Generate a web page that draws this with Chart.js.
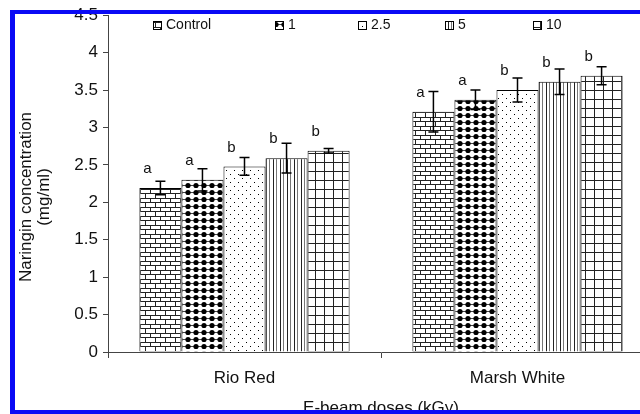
<!DOCTYPE html>
<html>
<head>
<meta charset="utf-8">
<script src="https://cdn.jsdelivr.net/npm/chart.js@4.4.1/dist/chart.umd.min.js"></script>
<style>
  html, body { margin: 0; padding: 0; background: #fff; overflow: hidden; }
  canvas { display: block; }
</style>
</head>
<body>
<canvas id="myChart" width="660" height="424"></canvas>
<script>
// Chart data
const categories = ['Rio Red', 'Marsh White'];
const doses = ['Control', '1', '2.5', '5', '10'];
const rioRed = [2.19, 2.30, 2.48, 2.59, 2.69];
const marshWhite = [3.21, 3.37, 3.50, 3.61, 3.69];
const rioRedErr = [0.09, 0.15, 0.12, 0.20, 0.03];
const marshWhiteErr = [0.27, 0.13, 0.16, 0.17, 0.12];
const rioRedLetters = ['a', 'a', 'b', 'b', 'b'];
const marshWhiteLetters = ['a', 'a', 'b', 'b', 'b'];
const yTicks = [0, 0.5, 1, 1.5, 2, 2.5, 3, 3.5, 4, 4.5];
const yTitle = ['Naringin concentration', '(mg/ml)'];

const FONT = '"Liberation Sans", Arial, sans-serif';

// build a small repeating fill for each dose
function makePattern(w, h, draw) {
    const c = document.createElement('canvas');
    c.width = w;
    c.height = h;
    const g = c.getContext('2d');
    g.fillStyle = '#fff';
    g.fillRect(0, 0, w, h);
    draw(g);
    return g.createPattern(c, 'repeat');
}

const patterns = [
    // brick
    makePattern(10, 9, g => {
        g.strokeStyle = '#222';
        g.lineWidth = 1;
        g.beginPath();
        g.moveTo(0, 0.5); g.lineTo(10, 0.5);
        g.moveTo(0, 4.5); g.lineTo(10, 4.5);
        g.moveTo(0.5, 0); g.lineTo(0.5, 4.5);
        g.moveTo(5.5, 4.5); g.lineTo(5.5, 9);
        g.stroke();
    }),
    // black dots
    makePattern(8, 7, g => {
        g.strokeStyle = '#444';
        g.beginPath();
        g.moveTo(0, 3.5); g.lineTo(8, 3.5);
        g.stroke();
        g.fillStyle = '#000';
        g.beginPath();
        g.arc(4, 3.5, 2.6, 0, Math.PI * 2);
        g.fill();
    }),
    // sparse dots
    makePattern(8, 8, g => {
        g.fillStyle = '#000';
        g.fillRect(2, 2, 1, 1);
        g.fillRect(6, 6, 1, 1);
    }),
    // vertical lines
    makePattern(7, 4, g => {
        g.fillStyle = '#222';
        g.fillRect(0, 0, 1, 4);
        g.fillStyle = '#777';
        g.fillRect(3, 0, 1, 4);
    }),
    // grid
    makePattern(9, 9, g => {
        g.fillStyle = '#222';
        g.fillRect(0, 0, 9, 1);
        g.fillRect(0, 0, 1, 9);
    })
];

const datasets = doses.map((dose, i) => ({
    label: dose,
    data: [rioRed[i], marshWhite[i]],
    errors: [rioRedErr[i], marshWhiteErr[i]],
    letters: [rioRedLetters[i], marshWhiteLetters[i]],
    backgroundColor: patterns[i],
    borderColor: '#000',
    borderWidth: 1,
    borderSkipped: 'bottom',
    categoryPercentage: 0.77,
    barPercentage: 1.0
}));

// error bars and significance letters
const errorBarPlugin = {
    id: 'errorBars',
    afterDatasetsDraw(chart) {
        const ctx = chart.ctx;
        const y = chart.scales.y;
        ctx.save();
        chart.data.datasets.forEach((ds, di) => {
            const meta = chart.getDatasetMeta(di);
            meta.data.forEach((bar, j) => {
                const v = ds.data[j];
                const e = ds.errors[j];
                const x = bar.x;
                const yHi = y.getPixelForValue(v + e);
                const yLo = y.getPixelForValue(v - e);
                ctx.strokeStyle = '#000';
                ctx.lineWidth = 1.5;
                ctx.beginPath();
                ctx.moveTo(x, yHi); ctx.lineTo(x, yLo);
                ctx.moveTo(x - 5, yHi); ctx.lineTo(x + 5, yHi);
                ctx.moveTo(x - 5, yLo); ctx.lineTo(x + 5, yLo);
                ctx.stroke();

                ctx.fillStyle = '#111';
                ctx.font = '15px ' + FONT;
                ctx.textAlign = 'center';
                ctx.textBaseline = 'middle';
                ctx.fillText(ds.letters[j], x - 13, bar.y - 19);
            });
        });
        ctx.restore();
    }
};

// legend row inside the plot, like the original figure
const legendPlugin = {
    id: 'insideLegend',
    afterDraw(chart, args, opts) {
        const ctx = chart.ctx;
        ctx.save();
        ctx.font = '14px ' + FONT;
        ctx.textBaseline = 'middle';
        ctx.textAlign = 'left';
        chart.data.datasets.forEach((ds, i) => {
            const x = opts.x[i];
            const yc = opts.y;
            ctx.fillStyle = ds.backgroundColor;
            ctx.fillRect(x, yc - 4, 8, 8);
            ctx.strokeStyle = '#000';
            ctx.lineWidth = 1;
            ctx.strokeRect(x + 0.5, yc - 3.5, 8, 8);
            ctx.fillStyle = '#111';
            ctx.fillText(ds.label, x + 13, yc);
        });
        ctx.restore();
    }
};

// rotated y title, sitting a bit below the plot centre as in the figure
const yTitlePlugin = {
    id: 'yTitle',
    afterDraw(chart, args, opts) {
        const ctx = chart.ctx;
        ctx.save();
        ctx.translate(opts.x, opts.y);
        ctx.rotate(-Math.PI / 2);
        ctx.font = '17px ' + FONT;
        ctx.fillStyle = '#111';
        ctx.textAlign = 'center';
        ctx.textBaseline = 'middle';
        yTitle.forEach((line, i) => ctx.fillText(line, 0, i * 18));
        ctx.restore();
    }
};

// blue frame around the figure
const framePlugin = {
    id: 'blueFrame',
    afterDraw(chart) {
        const ctx = chart.ctx;
        ctx.save();
        ctx.fillStyle = '#0a0af5';
        ctx.fillRect(10, 10, 5, 404);
        ctx.fillRect(10, 10, 650, 4);
        ctx.fillRect(10, 410, 650, 4);
        ctx.restore();
    }
};

const ctx = document.getElementById('myChart').getContext('2d');
const myChart = new Chart(ctx, {
    type: 'bar',
    data: {
        labels: categories,
        datasets: datasets
    },
    options: {
        responsive: false,
        devicePixelRatio: 1,
        animation: false,
        layout: { padding: { left: 14, top: 7, right: 6, bottom: 0 } },
        plugins: {
            legend: { display: false },
            tooltip: { enabled: false },
            insideLegend: { x: [153, 275, 358, 445, 533], y: 25 },
            yTitle: { x: 26, y: 197 }
        },
        scales: {
            x: {
                grid: { drawOnChartArea: false, offset: true, tickLength: 6, color: '#444' },
                border: { color: '#444', width: 1 },
                ticks: { color: '#111', font: { family: FONT, size: 17 }, padding: 10 },
                title: {
                    display: true,
                    text: 'E-beam doses (kGy)',
                    color: '#111',
                    font: { family: FONT, size: 17 },
                    padding: { top: 0, bottom: 5 }
                },
                afterFit(scale) { scale.height = 72; }
            },
            y: {
                min: 0,
                max: 4.5,
                afterBuildTicks(scale) { scale.ticks = yTicks.map(v => ({ value: v })); },
                grid: { drawOnChartArea: false, tickLength: 5, color: '#444' },
                border: { color: '#444', width: 1 },
                ticks: {
                    color: '#111',
                    font: { family: FONT, size: 17 },
                    padding: 5,
                    callback: value => String(value)
                },
                afterFit(scale) { scale.width = 94; }
            }
        }
    },
    plugins: [errorBarPlugin, legendPlugin, yTitlePlugin, framePlugin]
});
</script>
</body>
</html>
